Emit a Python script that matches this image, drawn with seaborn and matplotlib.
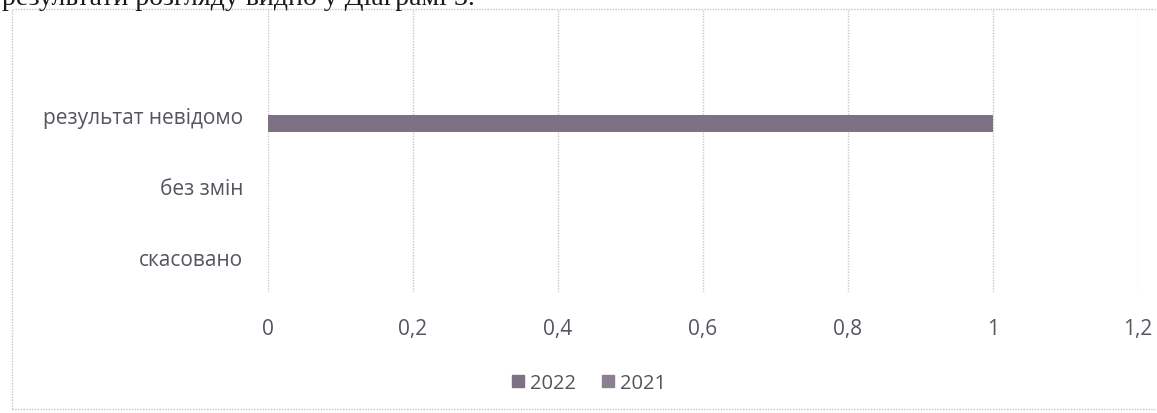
import matplotlib
matplotlib.use("Agg")
import matplotlib.pyplot as plt
import matplotlib.patches as mpatches
from matplotlib.ticker import FuncFormatter
import seaborn as sns
import pandas as pd

categories = ["", "результат невідомо", "без змін", "скасовано"]
values_2022 = [0, 1, 0, 0]
values_2021 = [0, 0, 0, 0]
series_names = ["2022", "2021"]
x_ticks = [0, 0.2, 0.4, 0.6, 0.8, 1.0, 1.2]

sns.set_theme(style="white")
plt.rcParams["font.family"] = ["Open Sans", "DejaVu Sans"]

df = pd.DataFrame({
    "category": categories * 2,
    "value": values_2022 + values_2021,
    "year": [series_names[0]] * len(categories) + [series_names[1]] * len(categories),
})

colors = {"2022": "#7d7283", "2021": "#8a8090"}
text_color = "#59535f"

fig = plt.figure(figsize=(11.57, 4.14), dpi=100)
W, H = 1157, 414
ax = fig.add_axes([268 / W, 1 - 293 / H, (1138 - 268) / W, (293 - 10) / H])

sns.barplot(data=df, x="value", y="category", hue="year", order=categories,
            hue_order=["2021", "2022"], palette=colors, orient="h",
            width=0.48, ax=ax, legend=False, linewidth=0, saturation=1)

ax.set_xlim(0, 1.2)
ax.set_xticks(x_ticks)
ax.xaxis.set_major_formatter(FuncFormatter(lambda v, p: ("%g" % round(v, 1)).replace(".", ",")))
ax.grid(axis="x", color="#c8c8cc", linestyle=(0, (1, 1)), linewidth=1)
ax.grid(axis="y", visible=False)
for s in ax.spines.values():
    s.set_visible(False)
ax.set_xlabel("")
ax.set_ylabel("")
ax.tick_params(axis="x", length=0, pad=19, labelsize=15, labelcolor=text_color)
ax.tick_params(axis="y", length=0, pad=18, labelsize=15, labelcolor=text_color)

handles = [mpatches.Patch(color=colors[n], label=n) for n in series_names]
fig.legend(handles=handles, loc="center", bbox_to_anchor=(589 / W, 1 - 384 / H),
           ncol=2, frameon=False, fontsize=14.5, handlelength=0.6, handleheight=0.6,
           handletextpad=0.3, columnspacing=1.3, labelcolor=text_color)

# outer chart frame (dotted)
frame = mpatches.Rectangle((12 / W, 1 - 410 / H), (W + 20 - 12) / W, 400 / H,
                           transform=fig.transFigure, fill=False,
                           edgecolor="#c8c8cc", linestyle=(0, (1, 1)), linewidth=1)
fig.add_artist(frame)

# cut-off line of document text above the chart
fig.text(2 / W, 1 - 5 / H, "результати розгляду видно у Діаграмі 3.",
         family=["Liberation Serif", "DejaVu Serif"], fontsize=20, color="#1a1a1a",
         ha="left", va="baseline")

fig.savefig("out.png", dpi=100)
